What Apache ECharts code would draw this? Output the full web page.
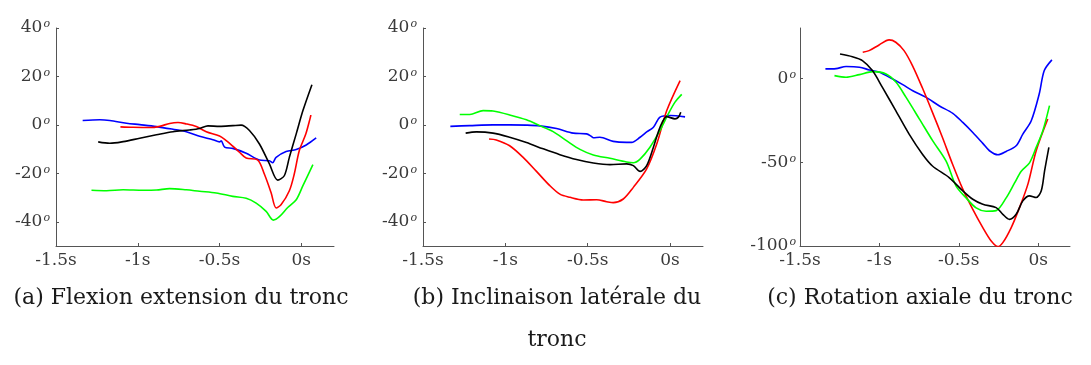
<!DOCTYPE html>
<html>
<head>
<meta charset="utf-8">
<script src="https://cdn.jsdelivr.net/npm/echarts@6/dist/echarts.min.js"></script>
<style>html,body{margin:0;padding:0;background:#fff}#c{width:1091px;height:365px}</style>
</head>
<body>
<div id="c"></div>
<script>
// ---- data: [time (s), angle (deg)] ----
const aBlue = [[-1.337,1.8],[-1.232,2.1],[-1.171,1.8],[-1.069,0.7],[-0.988,0.1],[-0.886,-0.7],[-0.785,-1.8],[-0.703,-2.8],[-0.622,-4.7],[-0.541,-6.1],[-0.500,-7.0],[-0.490,-6.6],[-0.469,-9.2],[-0.419,-9.7],[-0.337,-11.7],[-0.256,-14.5],[-0.195,-14.8],[-0.175,-15.6],[-0.154,-13.4],[-0.093,-11.0],[-0.031,-10.2],[0.030,-8.3],[0.091,-5.4]];
const aRed = [[-1.106,-0.8],[-1.029,-1.0],[-0.927,-1.1],[-0.866,-0.6],[-0.805,0.6],[-0.754,1.0],[-0.703,0.4],[-0.642,-0.7],[-0.581,-2.8],[-0.500,-4.6],[-0.459,-6.5],[-0.419,-8.8],[-0.378,-11.3],[-0.337,-13.7],[-0.266,-14.5],[-0.226,-20.3],[-0.185,-27.9],[-0.154,-34.3],[-0.124,-33.0],[-0.073,-27.2],[-0.043,-20.3],[-0.012,-10.6],[0.028,-3.7],[0.059,4.1]];
const aBlack = [[-1.242,-7.0],[-1.171,-7.6],[-1.089,-6.9],[-0.988,-5.5],[-0.886,-4.1],[-0.785,-2.8],[-0.683,-2.1],[-0.622,-1.5],[-0.571,-0.4],[-0.500,-0.6],[-0.419,-0.3],[-0.368,-0.1],[-0.317,-2.3],[-0.256,-7.9],[-0.195,-16.1],[-0.144,-22.8],[-0.104,-21.0],[-0.073,-13.4],[-0.031,-3.7],[0.010,5.9],[0.065,16.6]];
const aGreen = [[-1.283,-27.0],[-1.191,-27.2],[-1.089,-26.8],[-0.967,-27.0],[-0.886,-26.9],[-0.805,-26.3],[-0.703,-26.8],[-0.622,-27.4],[-0.520,-28.1],[-0.419,-29.5],[-0.337,-30.3],[-0.276,-32.3],[-0.215,-35.7],[-0.171,-39.3],[-0.134,-37.9],[-0.083,-34.1],[-0.031,-30.9],[0.010,-25.1],[0.071,-16.4]];

const bBlue = [[-1.334,-0.6],[-1.216,-0.3],[-1.075,0],[-0.974,0],[-0.872,-0.1],[-0.791,-0.4],[-0.689,-1.5],[-0.588,-3.4],[-0.507,-3.7],[-0.477,-4.8],[-0.466,-5.3],[-0.426,-5.1],[-0.345,-6.8],[-0.264,-7.2],[-0.233,-7.2],[-0.182,-5.1],[-0.142,-2.9],[-0.101,-1.0],[-0.061,3.2],[0.000,3.9],[0.091,3.3]];
const bGreen = [[-1.277,4.3],[-1.216,4.3],[-1.135,5.9],[-1.075,5.7],[-0.974,4.1],[-0.872,2.1],[-0.791,-0.3],[-0.710,-2.8],[-0.629,-6.5],[-0.547,-10.1],[-0.466,-12.4],[-0.365,-13.8],[-0.264,-15.3],[-0.223,-15.6],[-0.182,-14.1],[-0.122,-9.2],[-0.061,-2.3],[-0.010,4.6],[0.030,9.4],[0.071,12.6]];
const bBlack = [[-1.241,-3.4],[-1.176,-2.9],[-1.075,-3.4],[-0.974,-5.1],[-0.872,-7.3],[-0.770,-9.9],[-0.669,-12.3],[-0.568,-14.3],[-0.466,-15.7],[-0.365,-16.4],[-0.264,-16.1],[-0.223,-16.8],[-0.182,-19.2],[-0.142,-16.8],[-0.101,-9.2],[-0.061,-1.0],[-0.020,3.4],[0.030,2.5],[0.051,3.2],[0.065,5.2]];
const bRed = [[-1.099,-5.8],[-1.055,-6.2],[-0.974,-8.6],[-0.892,-13.4],[-0.811,-19.2],[-0.730,-25.1],[-0.669,-28.6],[-0.608,-29.9],[-0.527,-31.0],[-0.446,-30.9],[-0.385,-31.7],[-0.345,-32.1],[-0.284,-30.6],[-0.223,-25.8],[-0.142,-18.2],[-0.081,-7.9],[-0.020,5.9],[0.061,18.3]];

const cRed = [[-1.105,15.5],[-1.065,16.5],[-1.002,19.9],[-0.939,22.9],[-0.897,21.5],[-0.845,16.5],[-0.792,7.6],[-0.729,-5.8],[-0.666,-20.3],[-0.603,-35.3],[-0.540,-51.1],[-0.475,-66.1],[-0.412,-78.1],[-0.349,-89.0],[-0.296,-97.0],[-0.254,-100.4],[-0.223,-98.0],[-0.170,-89.0],[-0.118,-77.1],[-0.065,-63.1],[-0.013,-43.2],[0.060,-24.3]];
const cBlue = [[-1.340,5.6],[-1.273,5.8],[-1.210,7.0],[-1.126,6.6],[-1.063,5.0],[-1.000,3.6],[-0.937,0.6],[-0.853,-3.8],[-0.790,-7.4],[-0.706,-11.4],[-0.622,-16.5],[-0.538,-20.9],[-0.475,-26.3],[-0.412,-32.3],[-0.349,-38.8],[-0.307,-43.2],[-0.254,-45.6],[-0.202,-43.6],[-0.139,-40.2],[-0.097,-33.3],[-0.044,-25.3],[0.006,-9.4],[0.038,4.6],[0.086,11.0]];
const cGreen = [[-1.283,1.6],[-1.210,0.6],[-1.126,2.2],[-1.042,4.0],[-0.958,2.6],[-0.895,-2.4],[-0.832,-11.4],[-0.748,-24.3],[-0.664,-37.3],[-0.580,-49.4],[-0.517,-64.3],[-0.454,-71.3],[-0.391,-77.3],[-0.328,-79.3],[-0.265,-78.9],[-0.202,-71.3],[-0.149,-62.4],[-0.107,-55.4],[-0.055,-50.4],[-0.013,-41.2],[0.029,-31.3],[0.071,-16.3]];
const cBlack = [[-1.248,14.5],[-1.170,12.9],[-1.107,10.6],[-1.044,4.6],[-0.981,-5.4],[-0.897,-19.3],[-0.813,-33.3],[-0.729,-45.3],[-0.666,-52.3],[-0.561,-59.2],[-0.475,-67.1],[-0.412,-72.1],[-0.349,-75.1],[-0.265,-77.1],[-0.223,-81.1],[-0.181,-84.1],[-0.139,-81.1],[-0.097,-73.1],[-0.055,-70.1],[-0.013,-71.1],[0.019,-67.1],[0.040,-55.2],[0.067,-41.2]];

const xTicks = [-1.5, -1, -0.5, 0];
const yTicksAB = [-40, -20, 0, 20, 40];
const yTicksC = [-100, -50, 0];
const captions = ['(a) Flexion extension du tronc', '(b) Inclinaison latérale du\ntronc', '(c) Rotation axiale du tronc'];

// ---- styles ----
const FONT = 'DejaVu Serif';
const AXIS_C = '#555555';
const TEXT_C = '#3a3a3a';
const grids = [
  {left: 56, top: 28, width: 278, height: 218},
  {left: 423, top: 28, width: 280, height: 218},
  {left: 800, top: 28, width: 270, height: 218}
];
function xAxis(i) {
  return {
    type: 'value', gridIndex: i, min: -1.5, max: 0.2,
    axisLine: {onZero: false, lineStyle: {color: AXIS_C, width: 1}},
    axisTick: {inside: true, length: 3, customValues: xTicks, lineStyle: {color: AXIS_C}},
    splitLine: {show: false},
    axisLabel: {customValues: xTicks, margin: 6, color: TEXT_C, fontFamily: FONT, fontSize: 17,
      formatter: v => String(v) + 's'}
  };
}
function yAxis(i, min, max, ticks) {
  return {
    type: 'value', gridIndex: i, min: min, max: max,
    axisLine: {show: true, onZero: false, lineStyle: {color: AXIS_C, width: 1}},
    axisTick: {show: true, inside: true, length: 3, customValues: ticks, lineStyle: {color: AXIS_C}},
    splitLine: {show: false},
    axisLabel: {customValues: ticks, margin: i === 2 ? 4 : 6, color: TEXT_C,
      formatter: v => '{n|' + v + '}{s|o}',
      rich: {
        n: {fontFamily: FONT, fontSize: 17, color: TEXT_C, lineHeight: 18},
        s: {fontFamily: FONT, fontSize: 11, fontStyle: 'italic', color: TEXT_C, verticalAlign: 'top', lineHeight: 18, padding: [0, 0, 6, 1]}
      }}
  };
}
function line(data, color, i) {
  return {type: 'line', xAxisIndex: i, yAxisIndex: i, data: data, showSymbol: false, smooth: 0.3,
    lineStyle: {color: color, width: 1.6}, itemStyle: {color: color}, silent: true, clip: true};
}
const capPos = [[181, 298], [557, 298], [920, 298]];
const option = {
  animation: false,
  backgroundColor: '#ffffff',
  grid: grids,
  xAxis: [xAxis(0), xAxis(1), xAxis(2)],
  yAxis: [yAxis(0, -50, 40, yTicksAB), yAxis(1, -50, 40, yTicksAB), yAxis(2, -100, 30, yTicksC)],
  series: [
    line(aBlue, '#0000ff', 0), line(aRed, '#ff0000', 0), line(aGreen, '#00ff00', 0), line(aBlack, '#000000', 0),
    line(bBlue, '#0000ff', 1), line(bRed, '#ff0000', 1), line(bGreen, '#00ff00', 1), line(bBlack, '#000000', 1),
    line(cBlue, '#0000ff', 2), line(cRed, '#ff0000', 2), line(cGreen, '#00ff00', 2), line(cBlack, '#000000', 2)
  ],
  graphic: captions.map((t, k) => ({
    type: 'text', x: capPos[k][0], y: capPos[k][1] - 21,
    style: {text: t, align: 'center', verticalAlign: 'top', textAlign: 'center', textVerticalAlign: 'top',
      fontFamily: FONT, fontSize: 22, fill: '#1a1a1a', lineHeight: 42}
  }))
};
const chart = echarts.init(document.getElementById('c'), null, {renderer: 'canvas'});
chart.setOption(option);
</script>
</body>
</html>
